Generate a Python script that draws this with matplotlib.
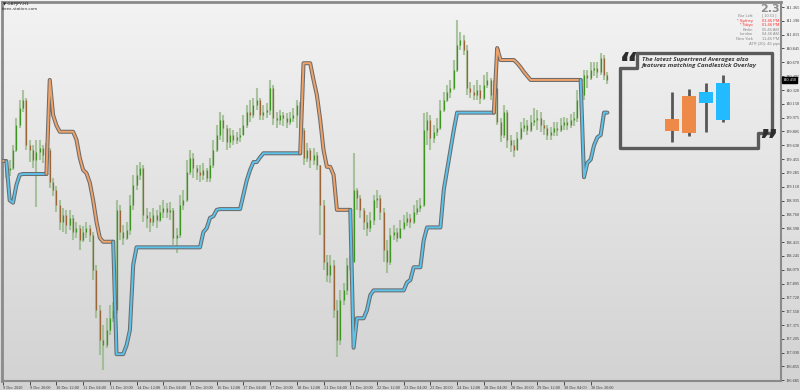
import numpy as np
import matplotlib.pyplot as plt
from matplotlib import patheffects as pe
from matplotlib.colors import LinearSegmentedColormap

# GBPJPY, bars grouped to 2 hours each
close = [139.30, 139.32, 139.35, 139.57, 139.88, 140.10, 140.20, 139.63,
         139.57, 139.45, 139.55, 139.60, 139.51, 139.57, 139.17, 139.07,
         138.88, 138.67, 138.75, 138.63, 138.72, 138.54, 138.59, 138.44,
         138.54, 138.59, 138.50, 138.07, 137.56, 137.19, 137.12, 137.31,
         137.46, 137.56, 138.82, 138.54, 138.47, 138.57, 138.88, 139.13,
         139.26, 139.35, 138.75, 138.72, 138.67, 138.75, 138.69, 138.79,
         138.84, 138.79, 138.82, 138.47, 138.50, 138.88, 138.94, 139.30,
         139.47, 139.35, 139.30, 139.26, 139.32, 139.22, 139.38, 139.57,
         139.76, 139.95, 139.85, 139.67, 139.76, 139.70, 139.73, 139.76,
         139.88, 140.05, 140.01, 140.14, 140.20, 140.01, 140.05, 140.07,
         140.35, 139.97, 139.95, 140.01, 139.97, 139.92, 139.97, 140.01,
         140.14, 139.82, 139.47, 139.57, 139.45, 139.51, 139.38, 138.88,
         138.17, 138.00, 138.13, 137.56, 137.19, 137.69, 137.81, 138.13,
         138.17, 139.07, 138.97, 138.82, 138.67, 138.59, 138.69, 138.94,
         138.97, 138.79, 138.32, 138.17, 138.50, 138.54, 138.47, 138.59,
         138.67, 138.72, 138.67, 138.79, 138.84, 138.88, 139.82, 139.95,
         139.72, 139.80, 139.85, 140.07, 140.20, 140.30, 140.35, 140.57,
         140.89, 140.95, 140.83, 140.35, 140.30, 140.26, 140.32, 140.22,
         140.39, 140.45, 140.26, 140.35, 139.92, 139.76, 140.05, 139.70,
         139.63, 139.57, 139.72, 139.85, 139.88, 139.82, 139.92, 139.95,
         139.97, 139.88, 139.85, 139.76, 139.80, 139.85, 139.82, 139.88,
         139.92, 139.88, 139.95, 139.97, 140.20, 140.26, 140.51, 140.47,
         140.57, 140.60, 140.55, 140.73, 140.51, 140.45]

high = [139.38, 139.41, 139.45, 139.63, 139.97, 140.20, 140.32, 140.22,
        139.70, 139.63, 139.70, 139.70, 139.63, 139.66, 139.60, 139.22,
        139.12, 138.94, 138.84, 138.82, 138.82, 138.75, 138.67, 138.63,
        138.62, 138.67, 138.63, 138.54, 138.13, 137.63, 137.38, 137.46,
        137.63, 137.66, 138.94, 138.88, 138.63, 138.67, 139.01, 139.26,
        139.38, 139.42, 139.38, 138.84, 138.79, 138.84, 138.82, 138.88,
        138.94, 138.91, 138.92, 138.84, 138.59, 139.01, 139.07, 139.45,
        139.57, 139.53, 139.38, 139.38, 139.41, 139.35, 139.47, 139.70,
        139.88, 140.05, 140.01, 139.88, 139.85, 139.82, 139.80, 139.85,
        140.01, 140.14, 140.20, 140.22, 140.35, 140.22, 140.14, 140.16,
        140.45, 140.39, 140.05, 140.07, 140.05, 140.04, 140.05, 140.10,
        140.20, 140.17, 139.85, 139.66, 139.60, 139.60, 139.55, 139.01,
        138.94, 138.25, 138.25, 138.19, 137.69, 137.81, 137.90, 138.22,
        138.25, 139.53, 139.09, 139.01, 138.84, 138.75, 138.79, 139.01,
        139.07, 139.01, 138.84, 138.44, 138.59, 138.63, 138.59, 138.69,
        138.75, 138.79, 138.77, 138.88, 138.94, 138.97, 140.04, 140.05,
        140.01, 139.88, 139.97, 140.20, 140.30, 140.39, 140.45, 140.70,
        141.20, 141.05, 141.01, 140.89, 140.42, 140.39, 140.45, 140.39,
        140.51, 140.55, 140.47, 140.45, 140.83, 139.97, 140.14, 140.07,
        139.76, 139.70, 139.80, 139.92, 139.97, 139.95, 140.01, 140.10,
        140.07, 140.05, 139.95, 139.88, 139.86, 139.92, 139.92, 139.97,
        139.98, 139.97, 140.02, 140.05, 140.32, 140.39, 140.57, 140.57,
        140.67, 140.67, 140.67, 140.79, 140.76, 140.55]

low = [139.19, 139.22, 139.25, 139.32, 139.55, 139.85, 140.05, 139.57,
       139.42, 139.35, 138.85, 139.45, 139.41, 139.45, 139.09, 138.99,
       138.79, 138.57, 138.54, 138.52, 138.57, 138.44, 138.47, 138.32,
       138.42, 138.47, 138.42, 137.94, 137.46, 137.00, 136.81, 137.09,
       137.25, 137.41, 137.51, 138.44, 138.38, 138.44, 138.50, 138.82,
       139.07, 139.19, 138.67, 138.59, 138.54, 138.62, 138.59, 138.67,
       138.72, 138.72, 138.69, 138.38, 138.28, 138.47, 138.82, 138.92,
       139.26, 139.22, 139.19, 139.17, 139.19, 139.17, 139.17, 139.35,
       139.55, 139.70, 139.67, 139.57, 139.60, 139.63, 139.65, 139.67,
       139.80, 139.85, 139.92, 139.97, 140.07, 139.95, 139.95, 139.97,
       140.01, 139.88, 139.85, 139.88, 139.87, 139.85, 139.88, 139.92,
       139.85, 139.72, 139.38, 139.42, 139.35, 139.38, 139.32, 138.50,
       138.07, 137.91, 137.90, 137.46, 136.97, 137.12, 137.63, 137.75,
       138.07, 138.17, 138.82, 138.72, 138.57, 138.49, 138.54, 138.63,
       138.84, 138.69, 138.17, 138.03, 138.13, 138.44, 138.42, 138.47,
       138.57, 138.62, 138.59, 138.64, 138.75, 138.79, 138.85, 139.63,
       139.57, 139.66, 139.75, 139.82, 140.05, 140.17, 140.22, 140.32,
       140.55, 140.83, 140.76, 140.26, 140.22, 140.20, 140.20, 140.15,
       140.20, 140.35, 140.20, 140.22, 139.88, 139.67, 139.72, 139.60,
       139.55, 139.48, 139.57, 139.70, 139.80, 139.76, 139.80, 139.87,
       139.82, 139.80, 139.76, 139.70, 139.70, 139.75, 139.75, 139.80,
       139.82, 139.82, 139.85, 139.87, 139.92, 140.07, 140.20, 140.35,
       140.45, 140.50, 140.47, 140.51, 140.45, 140.40]

supertrend = [139.43, 139.43, 138.94, 138.91, 139.13, 139.26, 139.27, 139.27,
              139.27, 139.27, 139.27, 139.27, 139.27, 139.27, 140.45, 140.01,
              139.88, 139.80, 139.80, 139.80, 139.80, 139.80, 139.70, 139.47,
              139.32, 139.28, 139.16, 138.94, 138.67, 138.47, 138.42, 138.42,
              138.42, 138.42, 137.01, 137.01, 137.01, 137.12, 137.31, 138.13,
              138.35, 138.35, 138.35, 138.35, 138.35, 138.35, 138.35, 138.35,
              138.35, 138.35, 138.35, 138.35, 138.35, 138.35, 138.35, 138.35,
              138.35, 138.35, 138.35, 138.35, 138.54, 138.59, 138.72, 138.74,
              138.82, 138.83, 138.83, 138.83, 138.83, 138.83, 138.83, 138.83,
              139.01, 139.19, 139.32, 139.42, 139.42, 139.48, 139.53, 139.53,
              139.53, 139.53, 139.53, 139.53, 139.53, 139.53, 139.53, 139.53,
              139.53, 139.53, 140.66, 140.66, 140.66, 140.45, 140.26, 139.95,
              139.57, 139.36, 139.36, 139.26, 138.82, 138.82, 138.82, 138.82,
              138.82, 137.09, 137.46, 137.46, 137.46, 137.56, 137.75, 137.81,
              137.81, 137.81, 137.81, 137.81, 137.81, 137.81, 137.81, 137.81,
              137.81, 137.91, 137.94, 138.10, 138.10, 138.10, 138.44, 138.60,
              138.60, 138.60, 138.60, 138.60, 139.07, 139.32, 139.57, 139.82,
              140.04, 140.04, 140.04, 140.04, 140.04, 140.04, 140.04, 140.04,
              140.04, 140.04, 140.04, 140.04, 140.85, 140.70, 140.70, 140.70,
              140.70, 140.70, 140.66, 140.61, 140.55, 140.50, 140.45, 140.45,
              140.45, 140.45, 140.45, 140.45, 140.45, 140.45, 140.45, 140.45,
              140.45, 140.45, 140.45, 140.45, 140.45, 140.45, 139.23, 139.41,
              139.45, 139.63, 139.73, 139.76, 140.04, 140.04]

# bars where the supertrend changes side, starting in a down trend
flip_bars = [2, 14, 34, 90, 105, 148, 174]
first_trend = -1

price_ticks = [141.365, 141.190, 141.015, 140.845, 140.670, 140.495, 140.320,
               140.150, 139.975, 139.805, 139.630, 139.455, 139.285, 139.110,
               138.935, 138.760, 138.590, 138.415, 138.245, 138.070, 137.895,
               137.720, 137.550, 137.375, 137.205, 137.030, 136.855, 136.685]

time_labels = ['9 Dec 2020', '9 Dec 20:00', '10 Dec 12:00', '11 Dec 04:00',
               '11 Dec 20:00', '14 Dec 12:00', '15 Dec 04:00', '15 Dec 20:00',
               '16 Dec 12:00', '17 Dec 04:00', '17 Dec 20:00', '18 Dec 12:00',
               '21 Dec 04:00', '21 Dec 20:00', '22 Dec 12:00', '23 Dec 04:00',
               '23 Dec 20:00', '24 Dec 12:00', '28 Dec 04:00', '28 Dec 20:00',
               '29 Dec 12:00', '30 Dec 04:00', '30 Dec 20:00']
bars_per_label = 8

# clock panel top right
clock_names = ['Bar Left:', '* Sydney', '* Tokyo', 'Berlin', 'London', 'New York']
clock_values = ['[ 10:53 ]', '03:46 PM', '01:46 PM', '05:46 AM', '04:46 AM', '11:46 PM']
clock_red = [False, True, True, False, False, False]
spread_text = '2.3'
atr_text = 'ATR (20): 46 pips'

# small candles in the callout
demo_open = [3.1, 5.4, 5.8, 6.7]
demo_close = [1.9, 1.7, 4.7, 3.0]
demo_high = [5.8, 6.1, 6.7, 7.5]
demo_low = [0.8, 1.4, 1.8, 2.8]
demo_trend = [-1, -1, 1, 1]

W, H = 800, 390
orange = '#f0a268'
blue = '#5cc3ec'
axis_font = 'Liberation Serif'


def fx(px):
    return px / W


def fy(py):
    return 1 - py / H


fig = plt.figure(figsize=(8, 3.9), dpi=100)

# background gradient over the whole window
bg = fig.add_axes([0, 0, 1, 1], zorder=-5)
grad = np.linspace(0, 1, 256).reshape(-1, 1)
bg.imshow(grad, aspect='auto', extent=[0, 1, 0, 1],
          cmap=LinearSegmentedColormap.from_list('bg', ['#f3f3f3', '#d2d2d2']))
bg.axis('off')

ax = fig.add_axes([fx(2), fy(381), fx(781) - fx(2), fy(2) - fy(381)])
ax.set_facecolor('none')

n = len(close)
x = np.arange(n)
opn = [close[0]] + close[:-1]
hi = [max(h, o, c) for h, o, c in zip(high, opn, close)]
lo = [min(l, o, c) for l, o, c in zip(low, opn, close)]

ax.vlines(x, lo, hi, color='#93b684', lw=1.5, alpha=0.75, zorder=2)
up = [c >= o for o, c in zip(opn, close)]
body_col = ['#3a961e' if u else '#9a6436' for u in up]
ax.vlines(x, [min(o, c) for o, c in zip(opn, close)],
          [max(o, c) for o, c in zip(opn, close)], color=body_col, lw=0.9, zorder=2.5)

# supertrend line, one piece per trend
bounds = [0] + flip_bars + [n]
for k in range(len(bounds) - 1):
    s, e = bounds[k], bounds[k + 1]
    trend = first_trend * (-1) ** k
    xs = np.arange(max(s - 1, 0), e)
    ax.plot(xs, [supertrend[i] for i in xs], color=orange if trend < 0 else blue,
            lw=1.4, zorder=3, solid_joinstyle='round', solid_capstyle='round',
            path_effects=[pe.Stroke(linewidth=2.9, foreground='#6c6c6c'), pe.Normal()])

ax.set_xlim(-0.3, 233.0)
ax.set_ylim(136.673, 141.428)

ax.yaxis.tick_right()
ax.set_yticks(price_ticks)
ax.set_yticklabels([f'{p:.3f}' for p in price_ticks], family=axis_font)
ax.tick_params(axis='y', direction='out', length=2, width=0.6, colors='#333',
               labelsize=3.1, pad=1.2)
ax.set_xticks(np.arange(len(time_labels)) * bars_per_label)
ax.set_xticklabels(time_labels, family=axis_font)
ax.tick_params(axis='x', direction='out', length=3, width=0.6, colors='#333',
               labelsize=3.1, pad=0.6)
for t in ax.get_xticklabels():
    t.set_horizontalalignment('left')

for side in ['left', 'top']:
    ax.spines[side].set_color('#8a8a8a')
    ax.spines[side].set_linewidth(2)
for side in ['right', 'bottom']:
    ax.spines[side].set_color('#8a8a8a')
    ax.spines[side].set_linewidth(1.5)

# last price marker on the price scale
ax.text(1.002, close[-1], f'{close[-1]:.3f}', transform=ax.get_yaxis_transform(),
        fontsize=3.1, family=axis_font, color='white', va='center', ha='left',
        clip_on=False, zorder=6,
        bbox=dict(boxstyle='square,pad=0.2', fc='black', ec='black'))

# top-left symbol
fig.text(fx(3), fy(4), '\u25bc GBPJPY,H1', fontsize=3.0, color='#222', va='center')
fig.text(fx(2), fy(8.5), 'forex-station.com', fontsize=3.0, color='#333', va='center')

# clock panel
fig.text(fx(780), fy(11.5), spread_text, fontsize=8, fontweight='bold', color='#8c8c8c',
         ha='right', va='baseline')
for r, (nm, val, red) in enumerate(zip(clock_names, clock_values, clock_red)):
    yy = 16.2 + r * 4.5
    col = '#ff3030' if red else '#8a8a8a'
    fig.text(fx(753), fy(yy), nm, fontsize=2.9, family='Liberation Sans', color=col,
             ha='right', va='center')
    fig.text(fx(762), fy(yy), val, fontsize=2.9, family='Liberation Sans', color=col,
             ha='left', va='center')
fig.text(fx(780), fy(43.5), atr_text, fontsize=2.9, family='Liberation Sans',
         color='#8a8a8a', ha='right', va='center')

# callout frame
box_px = [(637, 53), (772, 53), (772, 133), (758, 133), (758, 148),
          (620, 148), (620, 68), (637, 68), (637, 53)]
fig.add_artist(plt.Line2D([fx(p[0]) for p in box_px], [fy(p[1]) for p in box_px],
                          color='#5a5a5a', lw=2.4, solid_joinstyle='round',
                          solid_capstyle='round', zorder=7))
fig.text(fx(619), fy(51), '\u201c', fontsize=22, fontweight='bold', color='#2e2e2e',
         ha='left', va='top', zorder=8)
fig.text(fx(758), fy(128), '\u201d', fontsize=22, fontweight='bold', color='#2e2e2e',
         ha='left', va='top', zorder=8)
fig.text(fx(642), fy(62.5), 'The latest Supertrend Averages also\nfeatures matching Candlestick Overlay',
         fontsize=4.5, family='Open Sans', fontweight='bold', fontstyle='italic',
         color='#3a3a3a', ha='left', va='center', linespacing=1.25, zorder=8)

demo = fig.add_axes([fx(655), fy(150), fx(740) - fx(655), fy(70) - fy(150)])
demo.set_xlim(-1, 4)
demo.set_ylim(0, 8)
demo.axis('off')
dx = np.arange(len(demo_open))
demo.vlines(dx, demo_low, demo_high, color='#575757', lw=2, zorder=1)
demo.bar(dx, [abs(c - o) for o, c in zip(demo_open, demo_close)], width=0.88,
         bottom=[min(o, c) for o, c in zip(demo_open, demo_close)],
         color=['#ee8a48' if t < 0 else '#22bbff' for t in demo_trend],
         edgecolor='none', zorder=2)

fig.savefig('out.png', dpi=100)
